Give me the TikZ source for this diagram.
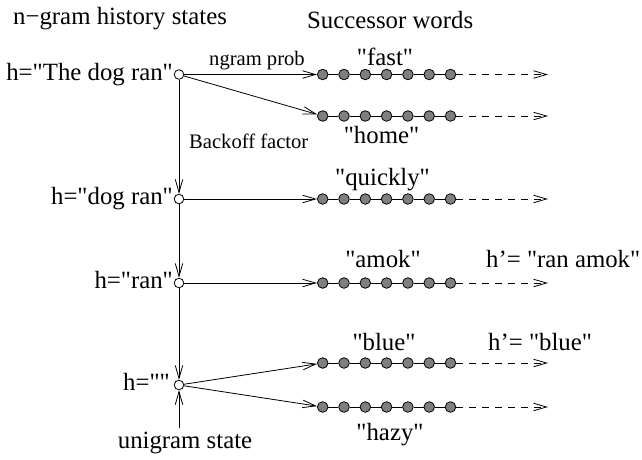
\documentclass[tikz,border=0pt]{standalone}
\usepackage{fontspec}
\setmainfont{Liberation Serif}[Ligatures=TeXOff]
\usetikzlibrary{arrows.meta}
\definecolor{wordgray}{HTML}{7F7F7F}
\newcommand\wordchain[2]{%
  \foreach \i in {0,...,6}{\node[word] (#1\i) at ({322.7+21.3*\i},#2) {};}
  \draw[link] (#10)--(#11)--(#12)--(#13)--(#14)--(#15)--(#16);
  \coordinate (#1end) at (548,#2);
  \draw[cont] (#16) -- (#1end);
}
\begin{document}
\begin{tikzpicture}[x=1pt,y=-1pt,
  big/.style={font=\fontsize{24.8}{28}\selectfont, inner sep=0pt},
  small/.style={font=\fontsize{20.6}{24}\selectfont, inner sep=0pt},
  state/.style={circle,draw,fill=white,minimum size=9.6pt,inner sep=0pt,line width=0.8pt},
  word/.style={circle,draw,fill=wordgray,minimum size=10.6pt,inner sep=0pt,line width=0.8pt},
  arr/.style={line width=0.8pt,-{Straight Barb[length=13pt,width=7.5pt]}},
  link/.style={line width=0.8pt},
  cont/.style={line width=0.8pt,dash pattern=on 7pt off 6pt,-{Straight Barb[length=13pt,width=7.5pt]}}]
\useasboundingbox (0,0) rectangle (642,459);

% history states
\node[state] (s1) at (179,74.5) {};
\node[state] (s2) at (179,199) {};
\node[state] (s3) at (179,283) {};
\node[state] (s4) at (179,385) {};

% successor word chains
\wordchain{fast}{74.5}
\wordchain{home}{116}
\wordchain{quickly}{199}
\wordchain{amok}{283}
\wordchain{blue}{363}
\wordchain{hazy}{407}

% ngram arrows
\draw[arr] (s1) -- (fast0);
\draw[arr] (s1) -- (home0);
\draw[arr] (s2) -- (quickly0);
\draw[arr] (s3) -- (amok0);
\draw[arr] (s4) -- (blue0);
\draw[arr] (s4) -- (hazy0);

% backoff arrows
\draw[arr] (s1) -- (s2);
\draw[arr] (s2) -- (s3);
\draw[arr] (s3) -- (s4);

% labels
\node[big,anchor=base west] (title1) at (13,24) {n−gram history states};
\node[big,anchor=base west] (title2) at (307,28) {Successor words};
\node[big,anchor=base east] (h1) at (173,80) {h="The dog ran"};
\node[big,anchor=base east] (h2) at (173,204) {h="dog ran"};
\node[big,anchor=base east] (h3) at (173,288) {h="ran"};
\node[big,anchor=base east] (h4) at (170,390) {h=""};
\node[small,anchor=base west] (np) at (209,65) {ngram prob};
\node[small,anchor=base west] (bf) at (189,148) {Backoff factor};
\node[big,anchor=base] (wfast) at (385,65) {"fast"};
\node[big,anchor=base] (whome) at (381.5,143) {"home"};
\node[big,anchor=base] (wq) at (382.5,185) {"quickly"};
\node[big,anchor=base] (wamok) at (383,267) {"amok"};
\node[big,anchor=base west] (hp1) at (486,267) {h’= "ran amok"};
\node[big,anchor=base] (wblue) at (384,350) {"blue"};
\node[big,anchor=base west] (hp2) at (488,350) {h’= "blue"};
\node[big,anchor=base] (whazy) at (390,440) {"hazy"};
\node[big,anchor=base] (uni) at (185,448) {unigram state};

% unigram pointer
\coordinate (unitail) at (179,428);
\draw[arr] (unitail) -- (s4);
\end{tikzpicture}
\end{document}
